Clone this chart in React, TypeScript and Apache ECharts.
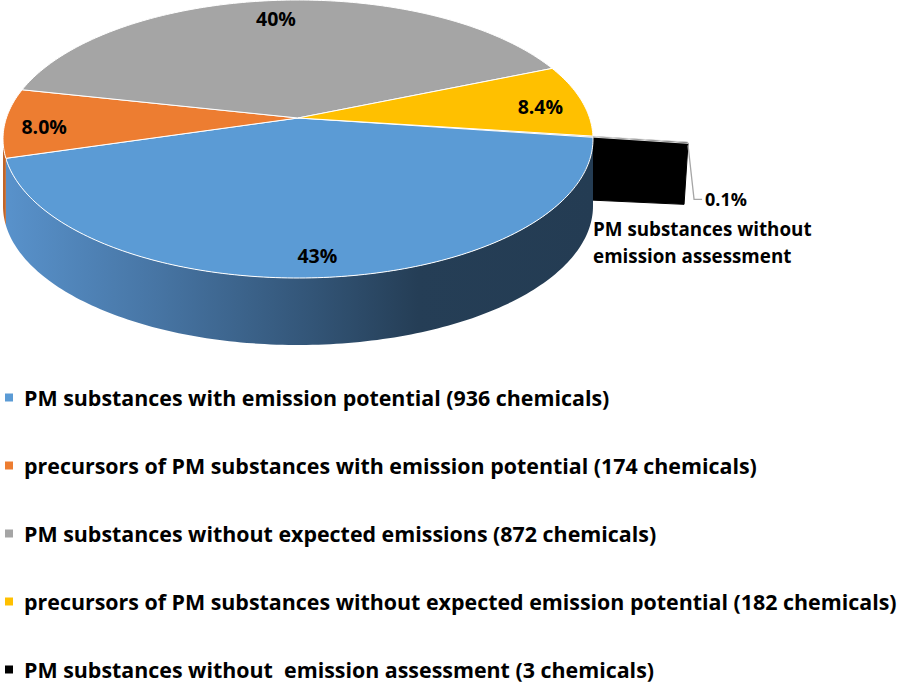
import React, { useEffect, useRef } from 'react';
import * as echarts from 'echarts';

const categories = [
  'PM substances with emission potential (936 chemicals)',
  'precursors of PM substances with emission potential (174 chemicals)',
  'PM substances without expected emissions (872 chemicals)',
  'precursors of PM substances without expected emission potential (182 chemicals)',
  'PM substances without  emission assessment (3 chemicals)',
];
const chemicals = [936, 174, 872, 182, 3];
const colors = ['#5B9BD5', '#ED7D31', '#A5A5A5', '#FFC000', '#000000'];
const calloutName = ['PM substances without', 'emission assessment'];
const explodedIndex = 4;

// layout of the 3D pie (drawing constants)
const CX = 298;
const CY = 139;
const RX = 295;
const RY = 139;
const A = -0.151; // perspective shift of the centre
const DEPTH = 67;
const START = 8; // degrees, clockwise from 3 o'clock
const EXPLODE = 0.3135;
const FONT = 'Open Sans';

const TOTAL = chemicals.reduce((a, b) => a + b, 0);
const cumStart: number[] = [];
chemicals.reduce((acc, v, i) => {
  cumStart[i] = acc;
  return acc + v;
}, 0);

const PHI_R = (Math.asin(-A) * 180) / Math.PI;
const PHI_L = 180 - PHI_R;
const K = Math.sqrt(1 - A * A);

function project(r: number, deg: number, ox = 0, oy = 0): [number, number] {
  const t = (deg * Math.PI) / 180;
  const u = r * Math.cos(t) + ox;
  const v = r * Math.sin(t) + oy;
  const den = 1 + A * v;
  return [CX + (RX * u * K) / den, CY + (RY * (v + A)) / den];
}

function arc(s: number, e: number, ox: number, oy: number): [number, number][] {
  const n = Math.max(2, Math.ceil(Math.abs(e - s)));
  const pts: [number, number][] = [];
  for (let k = 0; k <= n; k++) pts.push(project(1, s + ((e - s) * k) / n, ox, oy));
  return pts;
}

function fmtPct(v: number): string {
  const p = (v / TOTAL) * 100;
  return p >= 9.95 ? Math.round(p) + '%' : p.toFixed(1) + '%';
}

const blueSide = () =>
  new echarts.graphic.LinearGradient(
    10,
    0,
    593,
    0,
    [
      { offset: 0, color: '#5891CA' },
      { offset: 0.25, color: '#4775A4' },
      { offset: 0.5, color: '#34577A' },
      { offset: 0.7, color: '#253E56' },
      { offset: 1, color: '#243C53' },
    ],
    true
  );
const sideFills: any[] = [blueSide, () => '#C0652A', () => '#7C7C7C', () => '#BF9000', () => '#000000'];

function makeRender(i: number) {
  return () => {
    const s = START + (cumStart[i] / TOTAL) * 360;
    const e = s + (chemicals[i] / TOTAL) * 360;
    const mid = (s + e) / 2;
    const exploded = i === explodedIndex;
    const ox = exploded ? EXPLODE * Math.cos((mid * Math.PI) / 180) : 0;
    const oy = exploded ? EXPLODE * Math.sin((mid * Math.PI) / 180) : 0;
    const children: any[] = [];
    const apex = project(0, 0, ox, oy);

    if (exploded) {
      const p1 = project(1, e, ox, oy);
      children.push({
        type: 'polygon',
        shape: {
          points: [apex, p1, [p1[0] - 4, p1[1] + DEPTH - 6], [apex[0], apex[1] + DEPTH]],
        },
        style: { fill: '#000000', stroke: '#000000', lineWidth: 1 },
      });
    }

    // front side walls
    for (const base of [0, 360]) {
      const lo = Math.max(s, PHI_R + base);
      const hi = Math.min(e, PHI_L + base);
      if (hi > lo) {
        const top = arc(lo, hi, ox, oy);
        const bottom = top.map(([x, y]) => [x, y + DEPTH] as [number, number]).reverse();
        children.push({
          type: 'polygon',
          shape: { points: top.concat(bottom) },
          style: { fill: sideFills[i](), stroke: 'none' },
        });
      }
    }

    // top face
    children.push({
      type: 'polygon',
      shape: { points: [apex].concat(arc(s, e, ox, oy)) },
      style: {
        fill: colors[i],
        stroke: exploded ? '#D9D9D9' : '#FFFFFF',
        lineWidth: 1,
        lineJoin: 'round',
      },
    });

    if (!exploded) {
      const [lx, ly] = project(0.86, mid);
      children.push({
        type: 'text',
        style: {
          text: fmtPct(chemicals[i]),
          x: lx - 2,
          y: ly + 4,
          align: 'center',
          verticalAlign: 'middle',
          fill: '#000000',
          fontFamily: FONT,
          fontWeight: 'bold',
          fontSize: 19.5,
        },
      });
    } else {
      const p1 = project(1, e, ox, oy);
      const bend: [number, number] = [p1[0] + 6, p1[1] + 56];
      const end: [number, number] = [bend[0] + 8, bend[1]];
      children.push({
        type: 'polyline',
        shape: { points: [[p1[0], p1[1] + 2], bend, end] },
        style: { stroke: '#A6A6A6', lineWidth: 1.3, fill: 'none' },
      });
      children.push({
        type: 'text',
        style: {
          text: fmtPct(chemicals[i]),
          x: end[0] + 3,
          y: end[1],
          align: 'left',
          verticalAlign: 'middle',
          fill: '#000000',
          fontFamily: FONT,
          fontWeight: 'bold',
          fontSize: 18,
        },
      });
      children.push({
        type: 'text',
        style: {
          text: calloutName.join('\n'),
          x: p1[0] - 95,
          y: end[1] + 16,
          align: 'left',
          verticalAlign: 'top',
          lineHeight: 27,
          fill: '#000000',
          fontFamily: FONT,
          fontWeight: 'bold',
          fontSize: 18.8,
        },
      });
    }
    return { type: 'group', children };
  };
}

export default function App() {
  const ref = useRef<HTMLDivElement>(null);
  useEffect(() => {
    if (!ref.current) return;
    const chart = echarts.init(ref.current, undefined, { renderer: 'svg' });
    const series = categories.map((name, i) => ({
      type: 'custom',
      name,
      coordinateSystem: 'none',
      z: i === explodedIndex ? 1 : 2,
      itemStyle: { color: colors[i] },
      data: [chemicals[i]],
      renderItem: makeRender(i),
      silent: true,
    }));
    chart.setOption({
      animation: false,
      color: colors,
      legend: {
        data: categories,
        orient: 'vertical',
        left: 5,
        top: 387,
        height: 298,
        padding: 0,
        icon: 'rect',
        itemWidth: 8,
        itemHeight: 8,
        itemGap: 47,
        selectedMode: false,
        textStyle: {
          fontFamily: FONT,
          fontWeight: 'bold',
          fontSize: 21.4,
          lineHeight: 21,
          color: '#000000',
          padding: [0, 0, 0, 6],
        },
      },
      series,
    });
    return () => chart.dispose();
  }, []);
  return (
    <div
      ref={ref}
      style={{ position: 'fixed', left: 0, top: 0, width: 898, height: 687, background: '#ffffff' }}
    />
  );
}
